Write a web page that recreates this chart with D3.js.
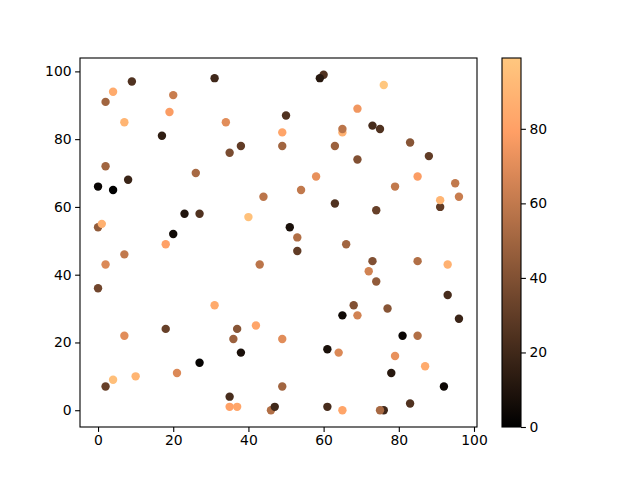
<!DOCTYPE html>
<html><head><meta charset="utf-8">
<script src="https://cdn.jsdelivr.net/npm/d3@7"></script>
<style>body{margin:0;background:#fff}svg{display:block}text{font-family:"DejaVu Sans",sans-serif}</style>
</head><body><svg id="c" width="640" height="480"></svg>
<script>
const xs = [9,4,2,20,19,7,17,2,26,0,4,8,23,27,0,1,20,18,31,60,59,50,34,49,38,35,49,63,65,65,58,54,44,63,40,51,53,76,69,73,75,83,88,69,85,79,95,96,91,91,74,66,7,2,0,31,18,7,27,21,10,4,2,53,43,65,42,37,36,49,38,61,64,49,35,35,37,46,47,61,65,73,72,74,85,93,93,68,77,69,96,81,85,79,87,78,92,83,76,75];
const ys = [97,94,91,93,88,85,81,72,70,66,65,68,58,58,54,55,52,49,98,99,98,87,85,82,78,76,78,78,82,83,69,65,63,61,57,54,51,96,89,84,83,79,75,74,69,66,67,63,60,62,59,49,46,43,36,31,24,22,14,11,10,9,7,47,43,28,25,24,21,21,17,18,17,7,4,1,1,0,1,1,0,44,41,38,44,43,34,31,30,28,27,22,22,16,13,11,7,2,0,0];
const cs = [25,85,50,62,78,90,15,50,52,3,0,18,10,25,45,88,5,80,20,25,12,25,70,82,30,38,50,48,88,58,72,60,58,25,96,8,55,99,75,22,25,42,30,40,78,60,60,62,30,90,32,50,60,68,35,85,32,70,2,68,90,95,32,30,58,5,82,42,48,70,8,8,68,50,22,80,82,55,20,22,82,40,65,45,55,88,22,40,42,65,18,3,55,72,85,12,4,25,20,52];
const xTicks = [0,20,40,60,80,100];
const yTicks = [0,20,40,60,80,100];
const cTicks = [0,20,40,60,80];

function copper(v){
  v = Math.max(0, Math.min(1, v));
  const r = Math.min(1, 1.25*v), g = 0.7812*v, b = 0.4975*v;
  return d3.rgb(r*255, g*255, b*255).toString();
}

const svg = d3.select("#c");
const L=80, R=477, T=58, B=427;
const xmin=d3.min(xs), xmax=d3.max(xs), ymin=d3.min(ys), ymax=d3.max(ys);
const xpad=(xmax-xmin)*0.05, ypad=(ymax-ymin)*0.05;
const x = d3.scaleLinear().domain([xmin-xpad, xmax+xpad]).range([L,R]);
const y = d3.scaleLinear().domain([ymin-ypad, ymax+ypad]).range([B,T]);
const cmin=d3.min(cs), cmax=d3.max(cs);
const cnorm = d3.scaleLinear().domain([cmin,cmax]).range([0,1]);

const data = xs.map((d,i)=>({x:d,y:ys[i],c:cs[i]}));
svg.append("g").selectAll("circle").data(data).join("circle")
  .attr("cx",d=>x(d.x)).attr("cy",d=>y(d.y)).attr("r",4.2)
  .attr("fill",d=>copper(cnorm(d.c)));

const ax = svg.append("g").attr("transform",`translate(0,${B})`)
  .call(d3.axisBottom(x).tickValues(xTicks).tickSize(4.9).tickPadding(3.5).tickFormat(d3.format("d")));
const ay = svg.append("g").attr("transform",`translate(${L},0)`)
  .call(d3.axisLeft(y).tickValues(yTicks).tickSize(4.9).tickPadding(3.5).tickFormat(d3.format("d")));
[ax,ay].forEach(g=>{g.select(".domain").remove();g.selectAll("text").attr("font-size","13.9px").attr("fill","#000").style("font-family","DejaVu Sans");g.selectAll("line").attr("stroke","#000").attr("stroke-width",1.1);});
svg.append("rect").attr("x",L).attr("y",T).attr("width",R-L).attr("height",B-T)
  .attr("fill","none").attr("stroke","#000").attr("stroke-width",1.1);

// colorbar
const CL=502, CR=521;
const cy = d3.scaleLinear().domain([cmin,cmax]).range([B,T]);
const grad = svg.append("defs").append("linearGradient").attr("id","cg")
  .attr("x1",0).attr("y1",1).attr("x2",0).attr("y2",0);
d3.range(0,1.0001,0.02).forEach(t=>grad.append("stop").attr("offset",t).attr("stop-color",copper(t)));
svg.append("rect").attr("x",CL).attr("y",T).attr("width",CR-CL).attr("height",B-T).attr("fill","url(#cg)");
const ac = svg.append("g").attr("transform",`translate(${CR},0)`)
  .call(d3.axisRight(cy).tickValues(cTicks).tickSize(4.9).tickPadding(3.5).tickFormat(d3.format("d")));
ac.select(".domain").remove();
ac.selectAll("text").attr("font-size","13.9px").attr("fill","#000").style("font-family","DejaVu Sans");
ac.selectAll("line").attr("stroke","#000").attr("stroke-width",1.1);
svg.append("rect").attr("x",CL).attr("y",T).attr("width",CR-CL).attr("height",B-T)
  .attr("fill","none").attr("stroke","#000").attr("stroke-width",1.1);
</script></body></html>
